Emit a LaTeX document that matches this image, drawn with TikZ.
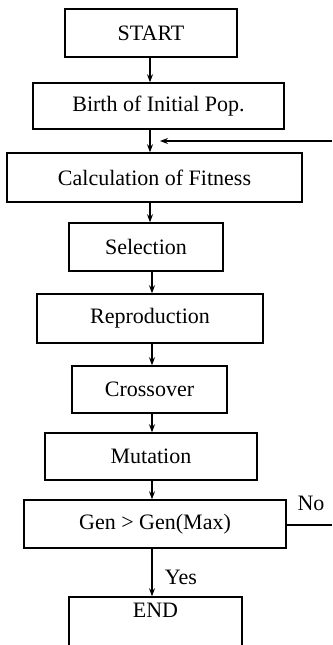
\documentclass[tikz,border=0pt]{standalone}
\usepackage{fontspec}
\setmainfont{Liberation Serif}
\usetikzlibrary{arrows.meta}
\begin{document}
\begin{tikzpicture}[x=1pt,y=-1pt,
  box/.style={draw, line width=1.5pt, inner sep=0pt, font=\fontsize{22}{26}\selectfont},
  arr/.style={line width=1.2pt, -{Stealth[length=8pt,width=6pt]}},
  plain/.style={line width=1.2pt},
  lbl/.style={font=\fontsize{22}{26}\selectfont, inner sep=0pt}]
\useasboundingbox (0,0) rectangle (332,645);
\clip (0,0) rectangle (332,645);
\node[box, minimum width=172pt, minimum height=48pt] (start) at (151,33) {START};
\node[box, minimum width=251pt, minimum height=46pt] (birth) at (158.5,106) {Birth of Initial Pop.};
\node[box, minimum width=295pt, minimum height=49pt] (calc) at (154.5,177.5) {Calculation of Fitness};
\node[box, minimum width=154pt, minimum height=48pt] (sel) at (146,247) {Selection};
\node[box, minimum width=226pt, minimum height=49pt] (rep) at (150,318.5) {Reproduction};
\node[box, minimum width=155pt, minimum height=47pt] (cross) at (149.5,389.5) {Crossover};
\node[box, minimum width=212pt, minimum height=47pt] (mut) at (151,456.5) {Mutation};
\node[box, minimum width=262pt, minimum height=48pt] (gen) at (155,524) {Gen > Gen(Max)};
\node[box, minimum width=173pt, text height=20pt, text depth=30pt, anchor=base] (end) at (155.5,617) {END};
\coordinate (xa) at (150,0);
\coordinate (xb) at (152,0);
\coordinate (fbR) at (332,141);
\coordinate (fbT) at (160,141);
\coordinate (noR) at (332,525);
\draw[arr] (start.south -| xa) -- (birth.north -| xa);
\draw[arr] (birth.south -| xa) -- (calc.north -| xa);
\draw[arr] (calc.south -| xa) -- (sel.north -| xa);
\draw[arr] (sel.south -| xb) -- (rep.north -| xb);
\draw[arr] (rep.south -| xb) -- (cross.north -| xb);
\draw[arr] (cross.south -| xb) -- (mut.north -| xb);
\draw[arr] (mut.south -| xb) -- (gen.north -| xb);
\draw[arr] (gen.south -| xb) -- (end.north -| xb);
\draw[arr] (fbR) -- (fbT);
\draw[plain] (gen.east |- noR) -- (noR);
\node[lbl] (no) at (311,503) {No};
\node[lbl] (yes) at (181,577) {Yes};
\end{tikzpicture}
\end{document}
